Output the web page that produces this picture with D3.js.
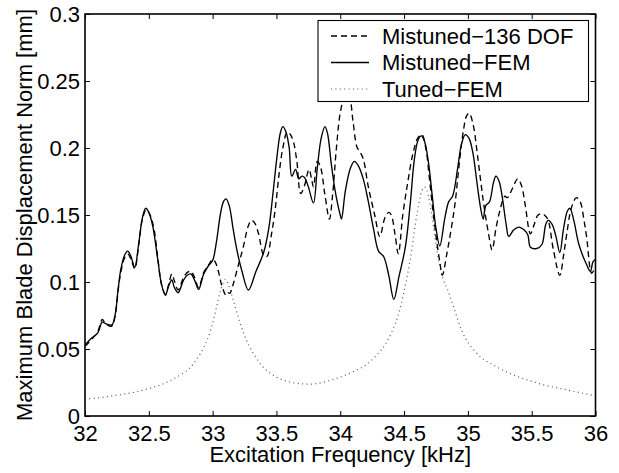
<!DOCTYPE html>
<html><head><meta charset="utf-8">
<script src="https://cdn.jsdelivr.net/npm/d3@7/dist/d3.min.js"></script>
<style>body{margin:0;background:#fff}svg{display:block}</style>
</head><body>
<svg id="c" width="619" height="473"></svg>
<script>
// ---- data ----
const xTicks = [32, 32.5, 33, 33.5, 34, 34.5, 35, 35.5, 36];
const yTicks = [0, 0.05, 0.1, 0.15, 0.2, 0.25, 0.3];
const xTickLabels = ["32","32.5","33","33.5","34","34.5","35","35.5","36"];
const yTickLabels = ["0","0.05","0.1","0.15","0.2","0.25","0.3"];
const seriesNames = ["Mistuned\u2212136 DOF", "Mistuned\u2212FEM", "Tuned\u2212FEM"];
const xLabel = "Excitation Frequency [kHz]";
const yLabel = "Maximum Blade Displacement Norm [mm]";

const dof136 = [
 [32.00,0.052],[32.05,0.057],[32.10,0.063],[32.135,0.072],[32.16,0.069],[32.21,0.067],[32.235,0.074],
 [32.26,0.094],[32.28,0.107],[32.31,0.118],[32.335,0.121],[32.36,0.117],[32.39,0.110],[32.42,0.127],
 [32.45,0.147],[32.48,0.154],[32.51,0.150],[32.54,0.140],[32.57,0.118],[32.60,0.098],[32.63,0.091],
 [32.66,0.100],[32.68,0.106],[32.70,0.101],[32.73,0.094],[32.77,0.103],[32.80,0.107],[32.83,0.108],
 [32.86,0.103],[32.89,0.096],[32.93,0.107],[32.97,0.113],[33.00,0.117],[33.02,0.115],[33.045,0.108],
 [33.07,0.098],[33.105,0.090],[33.12,0.092],[33.135,0.0915],[33.16,0.098],[33.20,0.112],[33.24,0.126],
 [33.28,0.142],[33.305,0.146],[33.33,0.144],[33.36,0.136],[33.40,0.120],[33.425,0.119],[33.46,0.135],
 [33.49,0.154],[33.52,0.180],[33.55,0.200],[33.585,0.212],[33.61,0.210],[33.635,0.204],[33.66,0.190],
 [33.69,0.166],[33.72,0.172],[33.755,0.184],[33.775,0.177],[33.79,0.171],[33.82,0.190],[33.845,0.186],
 [33.88,0.165],[33.915,0.147],[33.94,0.165],[33.97,0.200],[34.00,0.226],[34.04,0.240],[34.07,0.238],
 [34.10,0.220],[34.13,0.201],[34.155,0.197],[34.18,0.192],[34.22,0.171],[34.27,0.150],[34.31,0.134],
 [34.35,0.148],[34.38,0.152],[34.40,0.150],[34.43,0.135],[34.455,0.121],[34.49,0.150],[34.53,0.175],
 [34.57,0.196],[34.61,0.208],[34.64,0.210],[34.67,0.200],[34.70,0.176],[34.73,0.150],[34.755,0.131],
 [34.78,0.115],[34.80,0.105],[34.835,0.121],[34.87,0.140],[34.90,0.159],[34.93,0.186],[34.965,0.213],
 [34.99,0.224],[35.01,0.226],[35.04,0.218],[35.08,0.191],[35.12,0.161],[35.16,0.137],[35.19,0.124],
 [35.22,0.140],[35.25,0.153],[35.29,0.164],[35.31,0.163],[35.35,0.170],[35.39,0.177],[35.42,0.172],
 [35.45,0.157],[35.49,0.136],[35.52,0.143],[35.55,0.150],[35.585,0.151],[35.61,0.149],[35.63,0.146],
 [35.67,0.124],[35.72,0.105],[35.75,0.120],[35.775,0.136],[35.81,0.155],[35.85,0.163],[35.88,0.160],
 [35.91,0.146],[35.93,0.134],[35.97,0.1065],[36.00,0.112]
];

const fem = [
 [32.00,0.053],[32.05,0.058],[32.10,0.062],[32.135,0.070],[32.16,0.069],[32.21,0.068],[32.235,0.075],
 [32.26,0.095],[32.28,0.109],[32.31,0.120],[32.335,0.123],[32.36,0.119],[32.39,0.111],[32.42,0.128],
 [32.45,0.148],[32.475,0.155],[32.50,0.152],[32.53,0.142],[32.57,0.117],[32.60,0.098],[32.63,0.090],
 [32.655,0.097],[32.68,0.1015],[32.70,0.096],[32.73,0.092],[32.77,0.101],[32.80,0.105],[32.83,0.106],
 [32.86,0.101],[32.89,0.0945],[32.93,0.106],[32.97,0.1125],[33.00,0.116],[33.03,0.130],[33.06,0.150],
 [33.085,0.160],[33.105,0.162],[33.13,0.157],[33.16,0.140],[33.19,0.124],[33.23,0.108],[33.28,0.094],
 [33.34,0.108],[33.40,0.122],[33.44,0.140],[33.475,0.168],[33.50,0.190],[33.53,0.211],[33.55,0.216],
 [33.575,0.212],[33.60,0.200],[33.62,0.179],[33.65,0.184],[33.675,0.177],[33.70,0.179],[33.72,0.178],
 [33.75,0.171],[33.79,0.159],[33.82,0.185],[33.85,0.207],[33.88,0.216],[33.90,0.211],[33.93,0.188],
 [33.96,0.168],[34.00,0.150],[34.01,0.147],[34.04,0.168],[34.08,0.185],[34.11,0.190],[34.14,0.187],
 [34.18,0.177],[34.22,0.160],[34.26,0.140],[34.30,0.123],[34.34,0.119],[34.38,0.105],[34.42,0.087],
 [34.46,0.104],[34.51,0.126],[34.55,0.160],[34.58,0.191],[34.61,0.206],[34.635,0.209],[34.66,0.205],
 [34.69,0.190],[34.72,0.165],[34.75,0.140],[34.78,0.127],[34.82,0.148],[34.85,0.160],[34.88,0.164],
 [34.92,0.185],[34.95,0.203],[34.98,0.210],[35.01,0.207],[35.04,0.196],[35.07,0.175],[35.10,0.155],
 [35.12,0.147],[35.14,0.157],[35.17,0.160],[35.20,0.174],[35.22,0.179],[35.245,0.175],[35.27,0.163],
 [35.30,0.143],[35.32,0.134],[35.36,0.139],[35.40,0.141],[35.44,0.139],[35.47,0.135],[35.49,0.126],
 [35.54,0.125],[35.58,0.128],[35.61,0.143],[35.63,0.146],[35.66,0.143],[35.69,0.134],[35.72,0.122],
 [35.75,0.140],[35.78,0.153],[35.80,0.155],[35.83,0.146],[35.87,0.128],[35.93,0.113],[35.96,0.108],
 [35.98,0.115],[36.00,0.117]
];

const tuned = [
 [32.00,0.0125],[32.10,0.0135],[32.20,0.0148],[32.30,0.0163],[32.40,0.018],[32.50,0.0205],[32.60,0.0235],
 [32.70,0.028],[32.80,0.034],[32.85,0.039],[32.90,0.046],[32.95,0.055],[33.00,0.069],[33.03,0.081],
 [33.06,0.093],[33.09,0.101],[33.10,0.102],[33.12,0.099],[33.16,0.087],[33.20,0.074],[33.25,0.060],
 [33.30,0.050],[33.40,0.036],[33.50,0.029],[33.60,0.0255],[33.70,0.024],[33.80,0.024],[33.90,0.026],
 [34.00,0.029],[34.10,0.033],[34.20,0.038],[34.30,0.047],[34.35,0.053],[34.40,0.062],[34.45,0.074],
 [34.50,0.093],[34.55,0.118],[34.60,0.150],[34.64,0.168],[34.66,0.171],[34.68,0.168],[34.72,0.148],
 [34.76,0.122],[34.80,0.104],[34.85,0.092],[34.90,0.078],[34.95,0.064],[35.00,0.055],[35.10,0.044],
 [35.20,0.038],[35.30,0.033],[35.40,0.029],[35.50,0.026],[35.60,0.023],[35.70,0.021],[35.80,0.019],
 [35.90,0.017],[36.00,0.015]
];

// ---- layout ----
const W = 619, H = 473;
const m = {left: 85, top: 14, right: 23.5, bottom: 57};
const iw = W - m.left - m.right, ih = H - m.top - m.bottom;
const FONT = "'Liberation Sans', Arial, Helvetica, sans-serif";

const svg = d3.select("#c");
const x = d3.scaleLinear().domain([32, 36]).range([m.left, m.left + iw]);
const y = d3.scaleLinear().domain([0, 0.3]).range([m.top + ih, m.top]);

svg.append("defs").append("clipPath").attr("id","clip")
  .append("rect").attr("x", m.left).attr("y", m.top).attr("width", iw).attr("height", ih);

const line = d3.line().x(d => x(d[0])).y(d => y(d[1])).curve(d3.curveCatmullRom.alpha(0.5));
const g = svg.append("g").attr("clip-path","url(#clip)");

g.append("path").datum(tuned).attr("d", line).attr("fill","none")
  .attr("stroke","#555").attr("stroke-width",1.2).attr("stroke-dasharray","1,3.4");
g.append("path").datum(dof136).attr("d", line).attr("fill","none")
  .attr("stroke","#000").attr("stroke-width",1.35).attr("stroke-dasharray","6,4");
g.append("path").datum(fem).attr("d", line).attr("fill","none")
  .attr("stroke","#000").attr("stroke-width",1.35);

// ---- axes (ticks inward, mirrored) ----
const tl = 5;
const axB = d3.axisBottom(x).tickValues(xTicks).tickSize(-tl).tickPadding(10)
  .tickFormat((d,i) => xTickLabels[i]);
const axT = d3.axisTop(x).tickValues(xTicks).tickSize(-tl).tickFormat("");
const axL = d3.axisLeft(y).tickValues(yTicks).tickSize(-tl).tickPadding(5)
  .tickFormat((d,i) => yTickLabels[i]);
const axR = d3.axisRight(y).tickValues(yTicks).tickSize(-tl).tickFormat("");

function style(sel){
  sel.select(".domain").remove();
  sel.selectAll(".tick line").attr("stroke","#000").attr("stroke-width",1);
  sel.selectAll(".tick text").attr("fill","#000").style("font-family",FONT).style("font-size","22px");
}
svg.append("g").attr("transform",`translate(0,${m.top+ih})`).call(axB).call(style)
  .selectAll(".tick text").attr("dy",null).attr("y", 25);
svg.append("g").attr("transform",`translate(0,${m.top})`).call(axT).call(style);
svg.append("g").attr("transform",`translate(${m.left},0)`).call(axL).call(style)
  .selectAll(".tick text").attr("dy","0.36em").attr("x",-5);
svg.append("g").attr("transform",`translate(${m.left+iw},0)`).call(axR).call(style);

svg.append("rect").attr("x",m.left).attr("y",m.top).attr("width",iw).attr("height",ih)
  .attr("fill","none").attr("stroke","#000").attr("stroke-width",1.6);

// ---- axis labels ----
svg.append("text").attr("x", m.left + iw/2).attr("y", 462).attr("text-anchor","middle")
  .style("font-family",FONT).style("font-size","22px").text(xLabel);
svg.append("text").attr("transform",`translate(32,${m.top + ih/2}) rotate(-90)`)
  .attr("text-anchor","middle").style("font-family",FONT).style("font-size","22px").text(yLabel);

// ---- legend ----
const lg = svg.append("g");
lg.append("rect").attr("x",318).attr("y",20.5).attr("width",270.5).attr("height",81)
  .attr("fill","#fff").attr("stroke","#000").attr("stroke-width",1.1);
const legStyles = [
  {stroke:"#000", dash:"6,4", w:1.35},
  {stroke:"#000", dash:null, w:1.35},
  {stroke:"#555", dash:"1,3.4", w:1.2}
];
seriesNames.forEach((name,i) => {
  const cy = 36 + i*26.5;
  lg.append("line").attr("x1",331).attr("x2",369).attr("y1",cy).attr("y2",cy)
    .attr("stroke",legStyles[i].stroke).attr("stroke-width",legStyles[i].w)
    .attr("stroke-dasharray",legStyles[i].dash);
  lg.append("text").attr("x",382).attr("y",cy+7.7)
    .style("font-family",FONT).style("font-size","22px").text(name);
});
</script>
</body></html>
